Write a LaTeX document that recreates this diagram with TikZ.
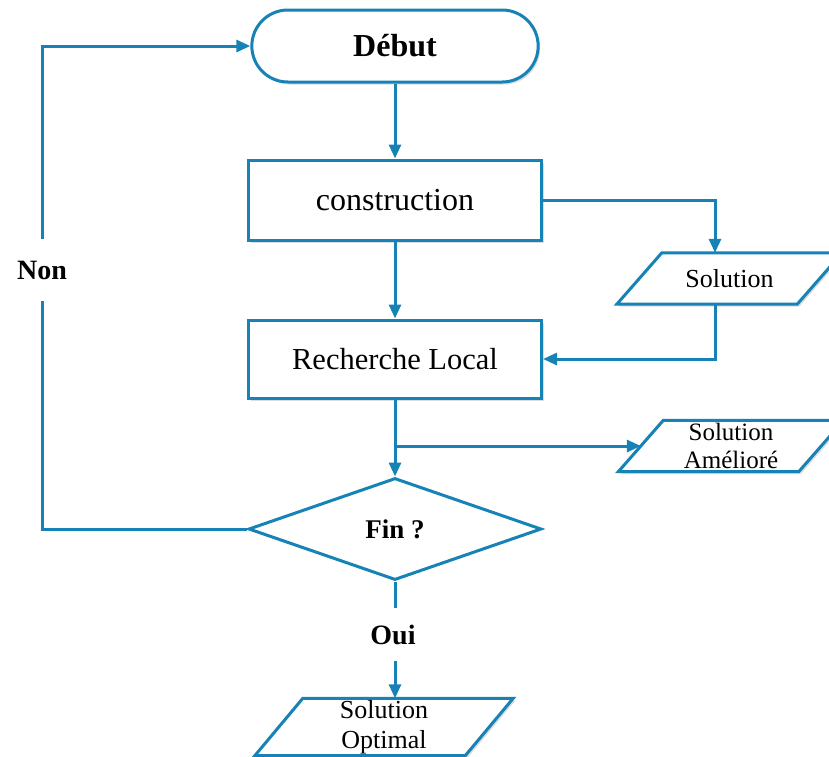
\documentclass[tikz,border=0pt]{standalone}
\usepackage{fontspec}
\setmainfont{Liberation Serif}
\usetikzlibrary{shapes.misc,shapes.geometric,arrows.meta,shadows,calc,backgrounds}
\definecolor{flow}{RGB}{22,130,182}

% slanted frame drawn around a named node: #1 node, #2 half of the slant
\newcommand\paraframe[2]{%
  \begin{pgfonlayer}{background}
    \path[paraline] ($(#1.north west)+(#2,0)$) -- ($(#1.north east)+(#2,0)$)
      -- ($(#1.south east)+(-#2,0)$) -- ($(#1.south west)+(-#2,0)$) -- cycle;
  \end{pgfonlayer}}

\begin{document}
\begin{tikzpicture}[x=1pt,y=-1pt,
  conn/.style={draw=flow, line width=3pt},
  arr/.style={conn, -{Triangle[length=14pt,width=12pt]}},
  softshadow/.style={drop shadow={shadow xshift=2pt,shadow yshift=-2.5pt,opacity=0.3,fill=black!45}},
  procbox/.style={rectangle, draw=flow, line width=3pt, fill=white,
    minimum width=293pt, softshadow},
  termbox/.style={rounded rectangle, draw=flow, line width=3pt, fill=white,
    minimum width=293pt, minimum height=72pt, font=\bfseries\fontsize{32}{36}\selectfont, softshadow},
  decbox/.style={diamond, aspect=2.87, draw=flow, line width=3pt, fill=white, inner sep=0pt,
    minimum width=293pt, minimum height=102pt, font=\bfseries\fontsize{27}{30}\selectfont},
  iobox/.style={rectangle, inner sep=0pt, align=center},
  paraline/.style={draw=flow, line width=3pt, fill=white, softshadow},
  lbl/.style={inner sep=0pt, font=\bfseries\fontsize{28}{30}\selectfont}
]
\useasboundingbox (0,0) rectangle (829,756);

% main column
\node[termbox] (debut) at (395,46) {Début};
\node[procbox, minimum height=80pt, font=\fontsize{32}{36}\selectfont] (cons) at (395,200) {construction};
\node[procbox, minimum height=78pt, font=\fontsize{30.5}{34}\selectfont] (rech) at (395,359) {Recherche Local};
\node[decbox] (fin) at (395,529) {Fin ?};

% input/output boxes
\node[iobox, minimum width=180pt, minimum height=51pt, font=\fontsize{26}{28}\selectfont] (sol) at (729.5,278.5) {Solution};
\paraframe{sol}{22.5}
\node[iobox, minimum width=180pt, minimum height=51pt, font=\fontsize{25}{28}\selectfont] (amel) at (731,446) {Solution\\Amélioré};
\paraframe{amel}{22.5}
\node[iobox, minimum width=210pt, minimum height=57pt, font=\fontsize{26}{30}\selectfont] (opt) at (384,727) {\raisebox{-3pt}{Solution}\\\raisebox{-3pt}{Optimal}};
\paraframe{opt}{24}

% branch labels
\node[lbl, minimum height=62pt] (non) at (42,270) {Non};
\node[lbl, minimum height=53pt] (oui) at (393,634.5) {Oui};

% connectors
\draw[arr] (debut.south) -- (cons.north);
\draw[arr] (cons.south) -- (rech.north);
\draw[arr] (cons.east) -| ($(sol.north)+(-14.5,0)$);
\draw[arr] ($(sol.south)+(-14.5,0)$) |- (rech.east);
\draw[arr] (rech.south) -- (fin.north);
\draw[arr] (rech.south |- amel.west) -- (amel.west);
\draw[conn] (fin.west) -| (non.south);
\draw[arr] (non.north) |- (debut.west);
\draw[conn] (fin.south) -- (fin.south |- oui.north);
\draw[arr] (fin.south |- oui.south) -- (fin.south |- opt.north);
\end{tikzpicture}
\end{document}
